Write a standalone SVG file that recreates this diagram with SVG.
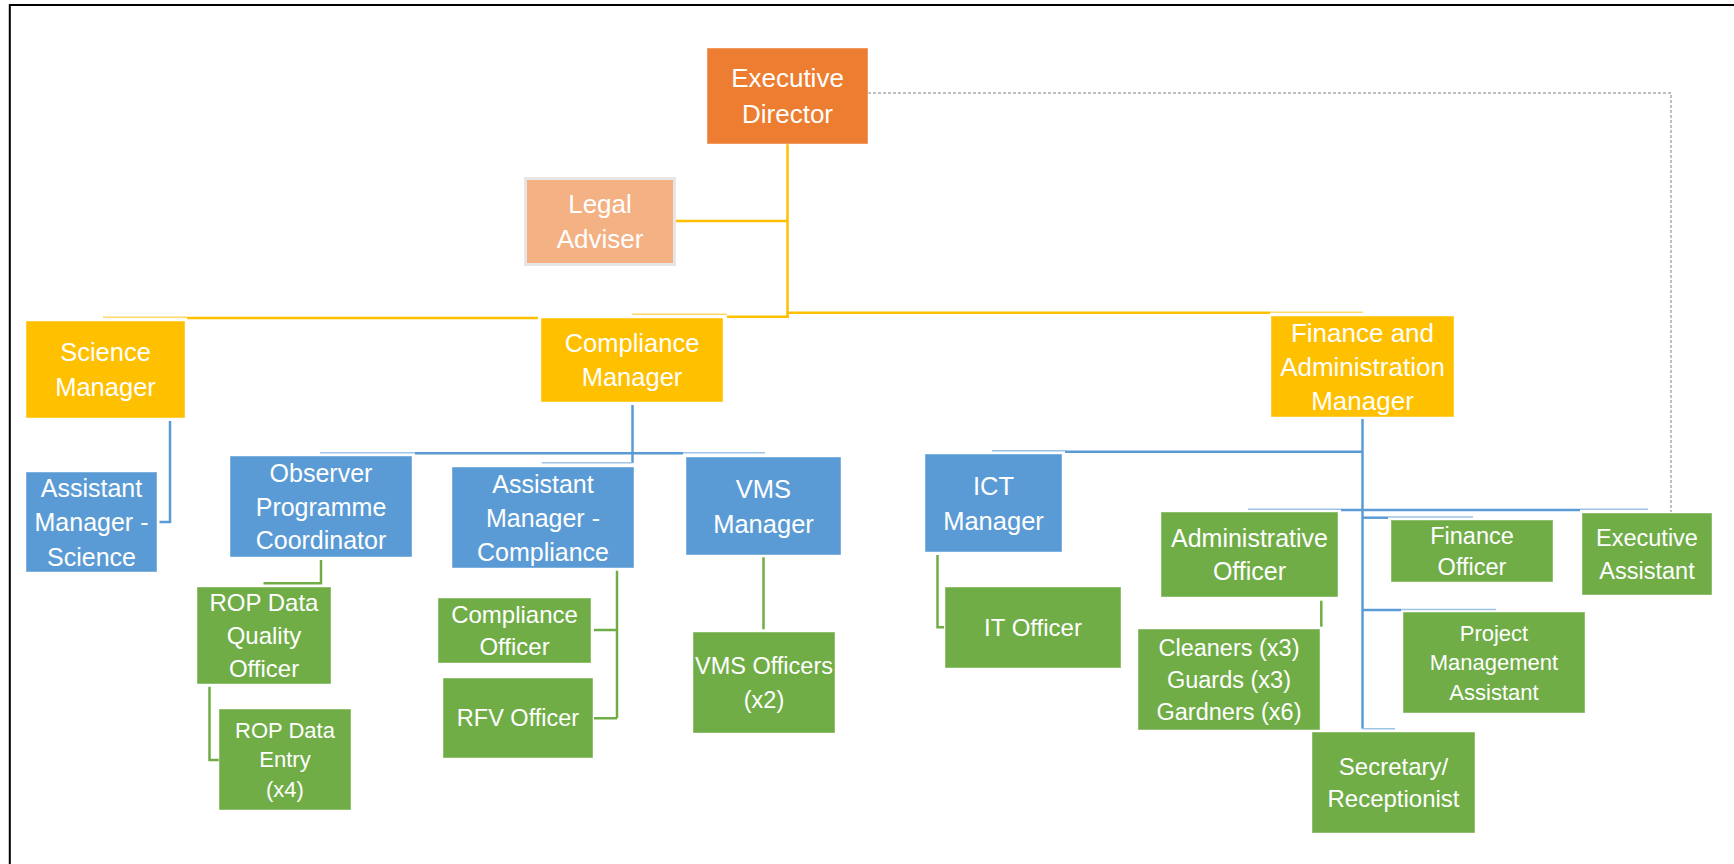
<svg xmlns="http://www.w3.org/2000/svg" width="1734" height="864" viewBox="0 0 1734 864">
<style>
.t{font-family:"Liberation Sans",Arial,sans-serif;fill:#fff;text-anchor:middle}
.or{fill:#ED7D31}
.lo{fill:#F4B183;stroke:#E6E6E6;stroke-width:3}
.ye{fill:#FFC000}
.bl{fill:#5B9BD5}
.gr{fill:#70AD47}
.box{stroke:#ffffff;stroke-opacity:0.45;stroke-width:1}
.cy{stroke:#FFC000;stroke-width:2.5;fill:none}
.cyl{stroke:#FFD966;stroke-width:1.5;fill:none}
.cb{stroke:#5B9BD5;stroke-width:2.5;fill:none}
.cbl{stroke:#9DC3E6;stroke-width:1.5;fill:none}
.cg{stroke:#70AD47;stroke-width:2.5;fill:none}
.dash{stroke:#7F7F7F;stroke-width:1;stroke-dasharray:3 2;fill:none}
</style>
<rect width="1734" height="864" fill="#fff"/>
<path d="M9.8 864 V5 H1734" stroke="#000" stroke-width="2" fill="none"/>

<g id="connectors">
  <path class="dash" d="M868 93 H1671 V512"/>
  <!-- yellow -->
  <path class="cy" d="M787.5 144 V317"/>
  <path class="cy" d="M676 221 H787.5"/>
  <path class="cyl" d="M103 317.3 H187"/>
  <path class="cy" d="M187 318 H538"/>
  <path class="cyl" d="M632 314.3 H727"/>
  <path class="cy" d="M727 316.7 H789"/>
  <path class="cy" d="M787 312.7 H1270"/>
  <path class="cyl" d="M1270 312.3 H1363"/>
  <!-- blue -->
  <path class="cb" d="M170 421 V522 H159.5"/>
  <path class="cb" d="M632.5 405 V463"/>
  <path class="cbl" d="M320 452.7 H415"/>
  <path class="cb" d="M415 453.3 H683"/>
  <path class="cbl" d="M683 452.7 H765"/>
  <path class="cbl" d="M541.7 462.7 H632.5"/>
  <path class="cb" d="M1362.5 419 V728.7"/>
  <path class="cbl" d="M992 450.7 H1065"/>
  <path class="cb" d="M1065 451.7 H1362.5"/>
  <path class="cbl" d="M1248 509.3 H1341"/>
  <path class="cb" d="M1341 510 H1580"/>
  <path class="cbl" d="M1580 509.3 H1648"/>
  <path class="cb" d="M1362.5 517.7 H1388"/>
  <path class="cbl" d="M1388 516.9 H1473"/>
  <path class="cb" d="M1362.5 610 H1401"/>
  <path class="cbl" d="M1401 609.4 H1496"/>
  <path class="cbl" d="M1362.5 728.7 H1395"/>
  <!-- green -->
  <path class="cg" d="M321 560 V583.3 H263.5"/>
  <path class="cg" d="M209.5 686.7 V760 H219"/>
  <path class="cg" d="M617 570.7 V718.3 M594 630 H617 M594 718.3 H617"/>
  <path class="cg" d="M763.5 557.3 V629.3"/>
  <path class="cg" d="M937.5 555 V627.3 H944"/>
  <path class="cg" d="M1321.3 600.7 V626.7"/>
</g>

<g id="executive-director">
  <rect class="or box" x="707" y="48" width="161" height="96"/>
  <text class="t" font-size="26"><tspan x="787.5" y="87.3">Executive</tspan><tspan x="787.5" y="123.3">Director</tspan></text>
</g>
<g id="legal-adviser">
  <rect class="lo" x="525.5" y="178.5" width="149" height="86"/>
  <text class="t" font-size="26"><tspan x="600" y="213.3">Legal</tspan><tspan x="600" y="248.3">Adviser</tspan></text>
</g>
<g id="science-manager">
  <rect class="ye box" x="26" y="321" width="159" height="97"/>
  <text class="t" font-size="25.5"><tspan x="105.5" y="361">Science</tspan><tspan x="105.5" y="396">Manager</tspan></text>
</g>
<g id="compliance-manager">
  <rect class="ye box" x="541" y="318" width="182" height="84"/>
  <text class="t" font-size="25.5"><tspan x="632" y="352">Compliance</tspan><tspan x="632" y="386">Manager</tspan></text>
</g>
<g id="finance-admin-manager">
  <rect class="ye box" x="1271" y="316" width="183" height="101"/>
  <text class="t" font-size="26"><tspan x="1362.5" y="341.8">Finance and</tspan><tspan x="1362.5" y="375.8">Administration</tspan><tspan x="1362.5" y="409.8">Manager</tspan></text>
</g>
<g id="assistant-manager-science">
  <rect class="bl box" x="26" y="472" width="131" height="100"/>
  <text class="t" font-size="25"><tspan x="91.5" y="496.5">Assistant</tspan><tspan x="91.5" y="531">Manager -</tspan><tspan x="91.5" y="565.5">Science</tspan></text>
</g>
<g id="observer-programme-coordinator">
  <rect class="bl box" x="230" y="456" width="182" height="101"/>
  <text class="t" font-size="25"><tspan x="321" y="481.8">Observer</tspan><tspan x="321" y="515.5">Programme</tspan><tspan x="321" y="549.2">Coordinator</tspan></text>
</g>
<g id="assistant-manager-compliance">
  <rect class="bl box" x="452" y="467" width="182" height="101"/>
  <text class="t" font-size="25"><tspan x="543" y="492.5">Assistant</tspan><tspan x="543" y="526.5">Manager -</tspan><tspan x="543" y="560.5">Compliance</tspan></text>
</g>
<g id="vms-manager">
  <rect class="bl box" x="686" y="457" width="155" height="98"/>
  <text class="t" font-size="25.5"><tspan x="763.5" y="497.6">VMS</tspan><tspan x="763.5" y="532.6">Manager</tspan></text>
</g>
<g id="ict-manager">
  <rect class="bl box" x="925" y="454" width="137" height="98"/>
  <text class="t" font-size="25.5"><tspan x="993.5" y="494.8">ICT</tspan><tspan x="993.5" y="529.5">Manager</tspan></text>
</g>
<g id="rop-data-quality-officer">
  <rect class="gr box" x="197" y="587" width="134" height="97"/>
  <text class="t" font-size="24"><tspan x="264" y="611.1">ROP Data</tspan><tspan x="264" y="644.1">Quality</tspan><tspan x="264" y="677.1">Officer</tspan></text>
</g>
<g id="rop-data-entry">
  <rect class="gr box" x="219" y="709" width="132" height="101"/>
  <text class="t" font-size="22"><tspan x="285" y="737.8">ROP Data</tspan><tspan x="285" y="767.4">Entry</tspan><tspan x="285" y="797">(x4)</tspan></text>
</g>
<g id="compliance-officer">
  <rect class="gr box" x="438" y="598" width="153" height="65"/>
  <text class="t" font-size="24"><tspan x="514.5" y="623.1">Compliance</tspan><tspan x="514.5" y="655.1">Officer</tspan></text>
</g>
<g id="rfv-officer">
  <rect class="gr box" x="443" y="678" width="150" height="80"/>
  <text class="t" font-size="23.5" x="518" y="726.4">RFV Officer</text>
</g>
<g id="vms-officers">
  <rect class="gr box" x="693" y="632" width="142" height="101"/>
  <text class="t" font-size="23.5"><tspan x="764" y="674.3">VMS Officers</tspan><tspan x="764" y="707.6">(x2)</tspan></text>
</g>
<g id="it-officer">
  <rect class="gr box" x="945" y="587" width="176" height="81"/>
  <text class="t" font-size="24" x="1033" y="636.1">IT Officer</text>
</g>
<g id="administrative-officer">
  <rect class="gr box" x="1161" y="512" width="177" height="85"/>
  <text class="t" font-size="25"><tspan x="1249.5" y="547.3">Administrative</tspan><tspan x="1249.5" y="579.7">Officer</tspan></text>
</g>
<g id="cleaners-guards-gardners">
  <rect class="gr box" x="1138" y="629" width="182" height="101"/>
  <text class="t" font-size="23.5"><tspan x="1229" y="655.9">Cleaners (x3)</tspan><tspan x="1229" y="687.9">Guards (x3)</tspan><tspan x="1229" y="719.9">Gardners (x6)</tspan></text>
</g>
<g id="finance-officer">
  <rect class="gr box" x="1391" y="520" width="162" height="62"/>
  <text class="t" font-size="23.5"><tspan x="1472" y="544.1">Finance</tspan><tspan x="1472" y="574.7">Officer</tspan></text>
</g>
<g id="executive-assistant">
  <rect class="gr box" x="1582" y="513" width="130" height="82"/>
  <text class="t" font-size="23.5"><tspan x="1647" y="546">Executive</tspan><tspan x="1647" y="578.8">Assistant</tspan></text>
</g>
<g id="project-management-assistant">
  <rect class="gr box" x="1403" y="612" width="182" height="101"/>
  <text class="t" font-size="22"><tspan x="1494" y="640.7">Project</tspan><tspan x="1494" y="670.4">Management</tspan><tspan x="1494" y="700.1">Assistant</tspan></text>
</g>
<g id="secretary-receptionist">
  <rect class="gr box" x="1312" y="732" width="163" height="101"/>
  <text class="t" font-size="24"><tspan x="1393.5" y="774.8">Secretary/</tspan><tspan x="1393.5" y="807.4">Receptionist</tspan></text>
</g>
</svg>
